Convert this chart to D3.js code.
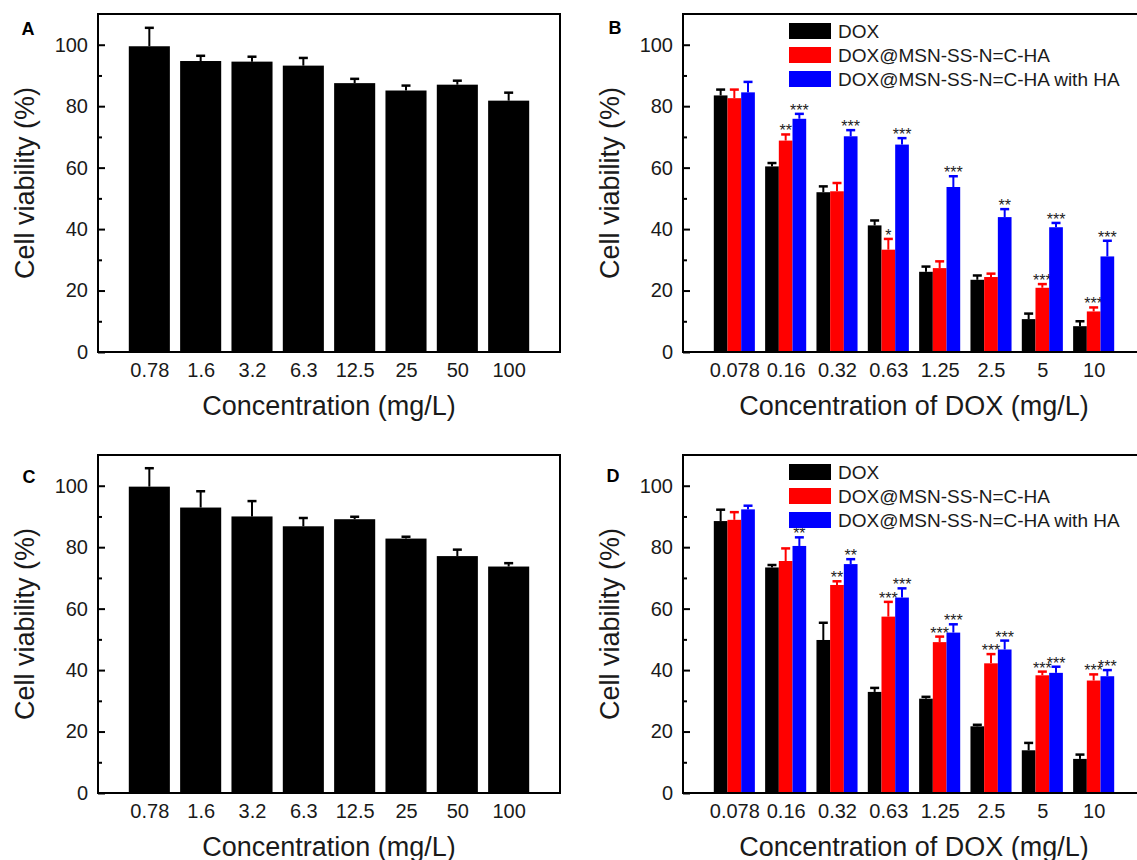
<!DOCTYPE html>
<html>
<head>
<meta charset="utf-8">
<script src="https://cdn.jsdelivr.net/npm/d3@7"></script>
<style>
	body { margin: 0; background: #fff; overflow: hidden; }
	svg { display: block; font-family: "Liberation Sans", Arial, sans-serif; }
	.tick text { font-size: 20px; fill: #1a1a1a; }
	.tick line { stroke: #000; stroke-width: 2; }
	.label { font-size: 27px; fill: #1a1a1a; }
	.legend text { font-size: 19px; fill: #1a1a1a; }
	.stars { font-size: 16px; fill: #222; }
	.letter { font-size: 18px; font-weight: bold; fill: #000; }
</style>
</head>
<body>
<div id="fig"></div>
<script>
// categories
var concAC = ["0.78", "1.6", "3.2", "6.3", "12.5", "25", "50", "100"]
var concBD = ["0.078", "0.16", "0.32", "0.63", "1.25", "2.5", "5", "10"]
var seriesNames = ["DOX", "DOX@MSN-SS-N=C-HA", "DOX@MSN-SS-N=C-HA with HA"]
var seriesColors = ["#000000", "#ff0000", "#0000ff"]
var yTicks = [0, 20, 40, 60, 80, 100]
var yMinorTicks = [10, 30, 50, 70, 90]

// panel A / C : single series, mean and upper error
var viabilityA = [99.5, 94.7, 94.5, 93.2, 87.5, 85.1, 87.0, 81.8]
var errA = [6.0, 1.7, 1.6, 2.5, 1.4, 1.6, 1.3, 2.6]
var viabilityC = [99.7, 92.9, 90.0, 86.8, 89.1, 82.8, 77.1, 73.7]
var errC = [6.0, 5.3, 5.0, 2.7, 0.8, 0.6, 2.1, 1.1]

// panel B : three series
var doxB = [83.5, 60.4, 52.0, 41.2, 26.1, 23.5, 10.7, 8.4]
var doxErrB = [1.9, 1.1, 1.9, 1.6, 1.7, 1.4, 1.8, 1.6]
var msnB = [82.6, 68.8, 52.3, 33.3, 27.3, 24.4, 20.9, 13.2]
var msnErrB = [2.8, 2.0, 2.7, 3.5, 2.2, 1.1, 1.2, 1.3]
var msnHaB = [84.5, 75.9, 70.2, 67.5, 53.7, 43.9, 40.6, 31.1]
var msnHaErrB = [3.4, 1.6, 2.0, 2.1, 3.5, 2.6, 1.4, 5.1]
var msnStarsB = ["", "**", "", "*", "", "", "***", "***"]
var msnHaStarsB = ["", "***", "***", "***", "***", "**", "***", "***"]

// panel D : three series
var doxD = [88.5, 73.4, 49.8, 32.9, 30.7, 21.7, 13.9, 11.1]
var doxErrD = [3.7, 0.8, 5.6, 1.3, 0.6, 0.5, 2.4, 1.4]
var msnD = [88.9, 75.5, 67.7, 57.4, 49.1, 42.2, 38.3, 36.6]
var msnErrD = [2.5, 4.1, 1.2, 4.8, 1.8, 3.0, 1.2, 2.0]
var msnHaD = [92.3, 80.4, 74.5, 63.6, 52.2, 46.7, 39.1, 38.0]
var msnHaErrD = [1.2, 2.8, 1.6, 3.0, 2.7, 2.9, 2.0, 2.0]
var msnStarsD = ["", "", "**", "***", "***", "***", "***", "***"]
var msnHaStarsD = ["", "**", "**", "***", "***", "***", "***", "***"]

var plot_width = 462
var plot_height = 338
var cap = 9

var svg = d3.select("#fig").append("svg")
	.attr("width", 1137)
	.attr("height", 860)

function create_panel(left, top, cats, xlab) {
	var chart = svg.append("g")
		.attr("transform", "translate(" + left + "," + top + ")")
	var x = d3.scaleLinear().domain([0, 9]).range([0, plot_width])
	var y = d3.scaleLinear().domain([0, 110]).range([plot_height, 0])
	chart._x = x
	chart._y = y
	chart._cats = cats
	chart._xlab = xlab
	return chart
}

function draw_axes(chart) {
	var x = chart._x, y = chart._y
	chart.append("g")
		.attr("class", "y-axis-minor")
		.call(d3.axisLeft(y).tickValues(yMinorTicks).tickSize(-4).tickFormat(""))
		.call(g => g.select(".domain").remove())
	chart.append("g")
		.attr("class", "y-axis")
		.call(d3.axisLeft(y).tickValues(yTicks).tickSize(-7).tickPadding(10))
		.call(g => g.select(".domain").remove())
	chart.append("g")
		.attr("class", "x-axis")
		.attr("transform", "translate(0," + plot_height + ")")
		.call(d3.axisBottom(x).tickValues(d3.range(1, 9)).tickSize(0).tickPadding(11)
			.tickFormat((d) => chart._cats[d - 1]))
		.call(g => g.select(".domain").remove())
	chart.append("rect")
		.attr("x", 0)
		.attr("y", 0)
		.attr("width", plot_width)
		.attr("height", plot_height)
		.attr("fill", "none")
		.attr("stroke", "#000")
		.attr("stroke-width", 2)
	chart.append("text")
		.attr("class", "label")
		.attr("x", plot_width / 2)
		.attr("y", plot_height + 63)
		.style("text-anchor", "middle")
		.text(chart._xlab)
	chart.append("text")
		.attr("class", "label")
		.attr("transform", "rotate(-90)")
		.attr("x", -plot_height / 2)
		.attr("y", -64)
		.style("text-anchor", "middle")
		.text("Cell viability (%)")
}

function draw_letter(letter, cx, cy) {
	svg.append("text")
		.attr("class", "letter")
		.attr("x", cx)
		.attr("y", cy)
		.attr("dy", "0.36em")
		.style("text-anchor", "middle")
		.text(letter)
}

// series: list of {values, errs, color, stars}
function draw_bars(chart, series) {
	var x = chart._x, y = chart._y
	var sub = d3.scaleBand()
		.domain(d3.range(series.length))
		.range([x(-0.4) - x(0), x(0.4) - x(0)])
	series.forEach((s, si) => {
		var rows = s.values.map((v, i) => ({i: i, v: v, e: s.errs[i], star: s.stars ? s.stars[i] : ""}))
		var cx = (d) => x(d.i + 1) + sub(si) + sub.bandwidth() / 2
		var g = chart.append("g").attr("class", "series-" + si)
		g.selectAll("rect.bar")
			.data(rows)
			.enter()
			.append("rect")
			.attr("class", "bar")
			.attr("x", (d) => x(d.i + 1) + sub(si))
			.attr("width", sub.bandwidth())
			.attr("y", (d) => y(d.v))
			.attr("height", (d) => y(0) - y(d.v))
			.attr("fill", s.color)
		g.selectAll("line.err")
			.data(rows)
			.enter()
			.append("line")
			.attr("class", "err")
			.attr("x1", cx)
			.attr("x2", cx)
			.attr("y1", (d) => y(d.v))
			.attr("y2", (d) => y(d.v + d.e))
			.attr("stroke", s.color)
			.attr("stroke-width", 2)
		g.selectAll("line.cap")
			.data(rows)
			.enter()
			.append("line")
			.attr("class", "cap")
			.attr("x1", (d) => cx(d) - cap / 2)
			.attr("x2", (d) => cx(d) + cap / 2)
			.attr("y1", (d) => y(d.v + d.e))
			.attr("y2", (d) => y(d.v + d.e))
			.attr("stroke", s.color)
			.attr("stroke-width", 2.5)
		g.selectAll("text.stars")
			.data(rows.filter((d) => d.star))
			.enter()
			.append("text")
			.attr("class", "stars")
			.attr("x", cx)
			.attr("y", (d) => y(d.v + d.e) + 2)
			.style("text-anchor", "middle")
			.text((d) => d.star)
	})
}

function draw_legend(chart) {
	var lg = chart.append("g")
		.attr("class", "legend")
		.attr("transform", "translate(106,9)")
	var items = lg.selectAll("g.item")
		.data(seriesNames)
		.enter()
		.append("g")
		.attr("class", "item")
		.attr("transform", (d, i) => "translate(0," + (i * 24) + ")")
	items.append("rect")
		.attr("width", 42)
		.attr("height", 16)
		.attr("fill", (d, i) => seriesColors[i])
	items.append("text")
		.attr("x", 49)
		.attr("y", 8)
		.attr("dy", "0.35em")
		.text((d) => d)
}

var panelA = create_panel(98, 14, concAC, "Concentration (mg/L)")
var panelB = create_panel(683, 14, concBD, "Concentration of DOX (mg/L)")
var panelC = create_panel(98, 455, concAC, "Concentration (mg/L)")
var panelD = create_panel(683, 455, concBD, "Concentration of DOX (mg/L)")

// A and C have one series, so the bar fills the whole 0.8 slot
draw_bars(panelA, [{values: viabilityA, errs: errA, color: "#000"}])
draw_bars(panelC, [{values: viabilityC, errs: errC, color: "#000"}])
draw_bars(panelB, [
	{values: doxB, errs: doxErrB, color: seriesColors[0]},
	{values: msnB, errs: msnErrB, color: seriesColors[1], stars: msnStarsB},
	{values: msnHaB, errs: msnHaErrB, color: seriesColors[2], stars: msnHaStarsB}
])
draw_bars(panelD, [
	{values: doxD, errs: doxErrD, color: seriesColors[0]},
	{values: msnD, errs: msnErrD, color: seriesColors[1], stars: msnStarsD},
	{values: msnHaD, errs: msnHaErrD, color: seriesColors[2], stars: msnHaStarsD}
])

;[panelA, panelB, panelC, panelD].forEach(draw_axes)
draw_legend(panelB)
draw_legend(panelD)

draw_letter("A", 28, 29)
draw_letter("B", 615, 28)
draw_letter("C", 29, 477)
draw_letter("D", 613, 476)
</script>
</body>
</html>
